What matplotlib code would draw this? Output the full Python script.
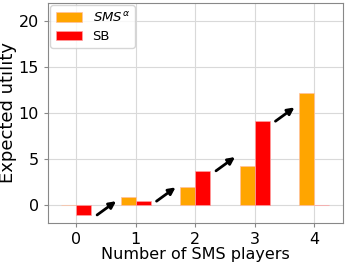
import numpy as np
import matplotlib
matplotlib.use('Agg')
import matplotlib.pyplot as plt

# datos
jugadores = [0, 1, 2, 3, 4]
util_sms = [0.0, 0.8, 1.9, 4.2, 12.2]
util_sb = [-1.1, 0.4, 3.7, 9.1, 0.0]
etiquetas = ['0', '1', '2', '3', '4']

x = np.array(jugadores)
ancho = 0.25

fig, ax = plt.subplots(figsize=(3.46, 2.62), dpi=100)
ax.set_axisbelow(True)
ax.grid(True, color='#d9d9d9', linewidth=0.8)

ax.bar(x - ancho, util_sms, width=ancho, align='edge', color='orange',
       edgecolor='#ffc0a0', linewidth=0.5, label=r'$SMS^{\alpha}$')
ax.bar(x, util_sb, width=ancho, align='edge', color='red',
       edgecolor='#ffa0a0', linewidth=0.5, label='SB')

# flechas entre SB(i) y SMS(i+1)
for i in range(4):
    ax.annotate('', xy=(i + 0.67, util_sb[i] + 1.5), xytext=(i + 0.35, util_sb[i]),
                arrowprops=dict(arrowstyle='-|>', color='black', lw=2,
                                mutation_scale=10, shrinkA=0, shrinkB=0))

ax.set_xlim(-0.48, 4.49)
ax.set_ylim(-2, 22)
ax.set_xticks(x)
ax.set_xticklabels(etiquetas)
ax.set_yticks([0, 5, 10, 15, 20])
ax.tick_params(labelsize=11.5, length=3, color='#888888')
for s in ax.spines.values():
    s.set_color('#888888')

ax.set_xlabel('Number of SMS players', fontsize=11.5, labelpad=0)
ax.set_ylabel('Expected utility', fontsize=13)
ax.yaxis.set_label_coords(-0.105, 0.5)
ax.legend(loc='upper left', fontsize=9.5, handlelength=2.0, framealpha=0.8,
          borderaxespad=0.2, labelspacing=0.4)

fig.subplots_adjust(left=0.138, right=0.992, top=0.99, bottom=0.148)
fig.savefig('out.png', dpi=100)
